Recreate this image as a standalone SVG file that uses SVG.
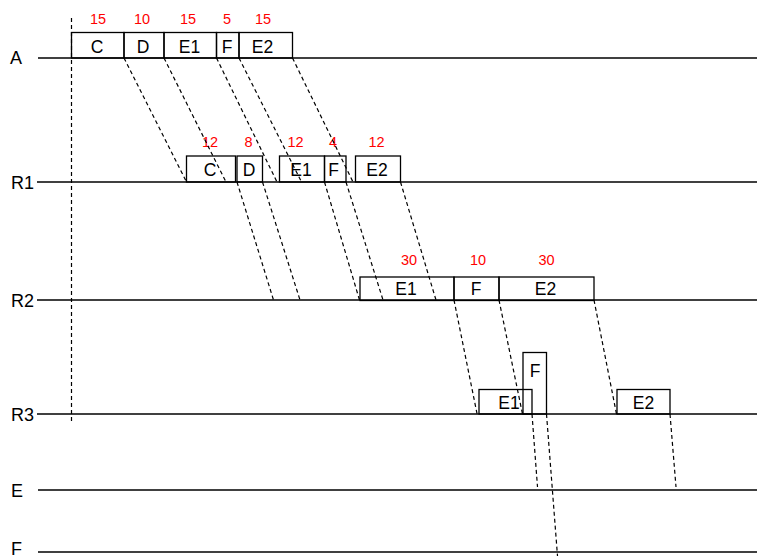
<svg xmlns="http://www.w3.org/2000/svg" width="757" height="558" viewBox="0 0 757 558">
<style>
.bg{fill:#ffffff}
.row{stroke:#000;stroke-width:1.3;fill:none}
.box{fill:none;stroke:#000;stroke-width:1.3}
.lbl{font-family:"Liberation Sans",Arial,sans-serif;font-size:17.5px;fill:#000;text-anchor:middle}
.rl{font-family:"Liberation Sans",Arial,sans-serif;font-size:18px;fill:#000}
.num{font-family:"Liberation Sans",Arial,sans-serif;font-size:14.5px;fill:#ff0000;text-anchor:middle}
.dash{stroke:#000;stroke-width:1.2;stroke-dasharray:4 3;fill:none}
</style>
<rect class="bg" x="0" y="0" width="757" height="558"/>

<g id="rows">
  <g id="row-A"><line class="row" x1="38" y1="58" x2="757" y2="58"/><text class="rl" x="10" y="64">A</text></g>
  <g id="row-R1"><line class="row" x1="37" y1="182" x2="757" y2="182"/><text class="rl" x="11" y="189">R1</text></g>
  <g id="row-R2"><line class="row" x1="37" y1="300" x2="757" y2="300"/><text class="rl" x="11" y="307">R2</text></g>
  <g id="row-R3"><line class="row" x1="37" y1="414" x2="757" y2="414"/><text class="rl" x="11" y="421">R3</text></g>
  <g id="row-E"><line class="row" x1="38" y1="490" x2="757" y2="490"/><text class="rl" x="11" y="497">E</text></g>
  <g id="row-F"><line class="row" x1="38" y1="552" x2="757" y2="552"/><text class="rl" x="11" y="555">F</text></g>
</g>

<g id="A-C"><rect class="box" x="71.5" y="32.5" width="52.5" height="25.5"/><text class="lbl" x="97" y="52.5">C</text><text class="num" x="98" y="23.5">15</text></g>
<g id="A-D"><rect class="box" x="124" y="32.5" width="40" height="25.5"/><text class="lbl" x="143" y="52.5">D</text><text class="num" x="142" y="23.5">10</text></g>
<g id="A-E1"><rect class="box" x="164" y="32.5" width="52.5" height="25.5"/><text class="lbl" x="189.5" y="52.5">E1</text><text class="num" x="188" y="23.5">15</text></g>
<g id="A-F"><rect class="box" x="216.5" y="32.5" width="22.5" height="25.5"/><text class="lbl" x="227" y="52.5">F</text><text class="num" x="227" y="23.5">5</text></g>
<g id="A-E2"><rect class="box" x="239" y="32.5" width="53.5" height="25.5"/><text class="lbl" x="262.5" y="52.5">E2</text><text class="num" x="263" y="23.5">15</text></g>

<g id="R1-C"><rect class="box" x="186.5" y="156" width="49" height="26"/><text class="lbl" x="210" y="175.5">C</text><text class="num" x="210" y="146.5">12</text></g>
<g id="R1-D"><rect class="box" x="237" y="156" width="25.5" height="26"/><text class="lbl" x="249" y="175.5">D</text><text class="num" x="248.5" y="146.5">8</text></g>
<g id="R1-E1"><rect class="box" x="279.5" y="156" width="45" height="26"/><text class="lbl" x="301" y="175.5">E1</text><text class="num" x="295.5" y="146.5">12</text></g>
<g id="R1-F"><rect class="box" x="324.5" y="156" width="21.5" height="26"/><text class="lbl" x="333.5" y="175.5">F</text><text class="num" x="333" y="146.5">4</text></g>
<g id="R1-E2"><rect class="box" x="355.5" y="156" width="45" height="26"/><text class="lbl" x="377" y="175.5">E2</text><text class="num" x="376.5" y="146.5">12</text></g>

<g id="R2-E1"><rect class="box" x="360" y="277" width="94" height="23.5"/><text class="lbl" x="406" y="295">E1</text><text class="num" x="409" y="265">30</text></g>
<g id="R2-F"><rect class="box" x="454" y="277" width="45" height="23.5"/><text class="lbl" x="476" y="295">F</text><text class="num" x="478" y="265">10</text></g>
<g id="R2-E2"><rect class="box" x="499" y="277" width="95" height="23.5"/><text class="lbl" x="545.5" y="295">E2</text><text class="num" x="546.5" y="265">30</text></g>

<g id="R3-E1"><rect class="box" x="479" y="389.5" width="53" height="24.5"/><text class="lbl" x="509" y="408.5">E1</text></g>
<g id="R3-F"><rect class="box" x="523" y="352.5" width="23.5" height="61.5"/><text class="lbl" x="535" y="377">F</text></g>
<g id="R3-E2"><rect class="box" x="617" y="389.5" width="53" height="24.5"/><text class="lbl" x="643.5" y="408.5">E2</text></g>

<g id="connectors">
  <line class="dash" x1="71.5" y1="18" x2="71.5" y2="422"/>
  <line class="dash" x1="124" y1="58" x2="186.5" y2="182"/>
  <line class="dash" x1="164" y1="58" x2="226" y2="182"/>
  <line class="dash" x1="216.5" y1="58" x2="277" y2="182"/>
  <line class="dash" x1="239" y1="58" x2="301.5" y2="182"/>
  <line class="dash" x1="292.5" y1="58" x2="353" y2="182"/>
  <line class="dash" x1="237" y1="182" x2="273.5" y2="300"/>
  <line class="dash" x1="262.5" y1="182" x2="300" y2="300"/>
  <line class="dash" x1="324.5" y1="182" x2="359.5" y2="300"/>
  <line class="dash" x1="346" y1="182" x2="383" y2="300"/>
  <line class="dash" x1="400.5" y1="182" x2="436" y2="300"/>
  <line class="dash" x1="454" y1="300" x2="477.5" y2="416"/>
  <line class="dash" x1="499" y1="300" x2="522.5" y2="414"/>
  <line class="dash" x1="594" y1="300" x2="616.5" y2="414"/>
  <line class="dash" x1="532" y1="414" x2="537.5" y2="487"/>
  <line class="dash" x1="546.5" y1="414" x2="557.5" y2="556"/>
  <line class="dash" x1="670" y1="414" x2="676" y2="487"/>
</g>
</svg>
